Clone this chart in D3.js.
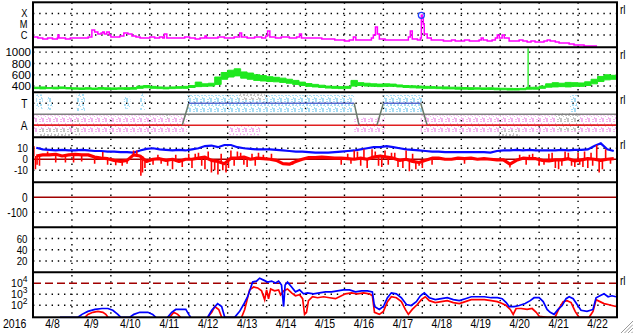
<!DOCTYPE html>
<html><head><meta charset="utf-8">
<script src="https://cdn.jsdelivr.net/npm/d3@7/dist/d3.min.js"></script>
<style>
html,body{margin:0;padding:0;background:#fff;overflow:hidden}
svg{display:block}
</style></head>
<body>
<svg id="chart" width="633" height="334"></svg>
<script>
// ================= DATA =================
const yearLabel = "2016";
const dayLabels = ["4/8","4/9","4/10","4/11","4/12","4/13","4/14","4/15","4/16","4/17","4/18","4/19","4/20","4/21","4/22"];
const rightTag = "rl";

// panel 1 : X-ray flux (W/m2), hours since 2016-04-08 00UT
const xrayTickValues = [1e-4, 1e-5, 1e-6];
const xrayTickLabels = ["X", "M", "C"];
const xrayHours = [0,3,6,9,12,15,15.4,16,20,23,26,29,32,34,36,36.3,38,40,42,43,44,45.5,47,48,51,53.5,56,58.5,61,63.5,66,69,72,75,78,80,81,82.5,85.5,90.5,93.5,96.5,100,103,106,107,110,114,118,121,124,127.4,128.6,132,136.6,141,143.4,144.6,146,149.5,153,158,162.5,164.3,165.5,169,173.5,178,183,186,189,192,195,197.5,199,202.5,206,208.6,209.8,211.1,212.3,213.5,217,221,224.6,228.3,231.4,232.6,233.8,237,238.8,239.4,240,240.6,241.2,243,245.5,249,253,255.4,258,260.3,263,266,269,272,275,276.3,277.5,280,283,285,286.2,287.4,289.2,290.5,293.5,296.6,299.7,302,304.6,307,309.5,312,315,317,318.8,322,324.3,327.4,330.5,333.5,336.6,339.7,342.8,345.8,347.7];
const xrayFlux = [6.5e-7,5.25e-7,4.2e-7,5.25e-7,4.2e-7,5.25e-7,1.0e-6,5.25e-7,4.2e-7,5.25e-7,5.25e-7,5.25e-7,5.25e-7,6.5e-7,6.5e-7,2.9e-6,1.9e-6,1.24e-6,1.54e-6,1.9e-6,1.24e-6,1.9e-6,1.0e-6,6.5e-7,6.5e-7,8.1e-7,1.54e-6,1.24e-6,8.1e-7,6.5e-7,5.25e-7,5.25e-7,6.5e-7,5.25e-7,6.5e-7,5.25e-7,1.24e-6,5.25e-7,5.25e-7,5.25e-7,6.5e-7,5.25e-7,4.2e-7,5.25e-7,8.1e-7,5.25e-7,5.25e-7,6.5e-7,5.25e-7,5.25e-7,6.5e-7,1.54e-6,6.5e-7,5.25e-7,6.5e-7,5.25e-7,8.1e-7,2.4e-6,6.5e-7,5.25e-7,6.5e-7,5.25e-7,6.5e-7,1.24e-6,5.25e-7,5.25e-7,5.25e-7,4.2e-7,4.2e-7,3.4e-7,3.4e-7,2.75e-7,3.4e-7,6.5e-7,3.4e-7,3.4e-7,3.4e-7,5.25e-7,1.0e-6,5.6e-6,1.24e-6,4.2e-7,3.4e-7,3.4e-7,3.4e-7,3.4e-7,6.5e-7,2.4e-6,4.2e-7,3.4e-7,5.25e-7,6.7e-5,4.0e-5,1.0e-5,1.24e-6,5.25e-7,3.4e-7,3.4e-7,2.75e-7,2.75e-7,3.4e-7,2.75e-7,2.75e-7,3.4e-7,2.75e-7,2.75e-7,3.4e-7,5.25e-7,3.4e-7,2.75e-7,3.4e-7,5.25e-7,1.0e-6,5.25e-7,1.0e-6,5.25e-7,2.75e-7,2.75e-7,3.4e-7,2.75e-7,2.2e-7,2.75e-7,2.2e-7,2.2e-7,2.75e-7,3.4e-7,2.75e-7,2.2e-7,1.8e-7,1.8e-7,1.45e-7,1.15e-7,1.15e-7,9.4e-8,9.4e-8,9.4e-8,9.4e-8];
const flareMarkHour = 239.4;
const flareMarkFlux = 6.7e-5;

// panel 2 : solar wind speed (km/s), 4-hour bins, low / high
const windTicks = [400, 600, 800, 1000];
const windStepHours = 4;
const windLo = [355,350,355,350,355,350, 345,340,345,340,345,340, 340,345,340,345,360,370, 360,355,350,355,360,360, 375,390,395,400,430,520, 560,580,540,520,500,490, 480,475,465,450,430,410, 395,385,375,365,360,355, 360,400,410,400,395,390, 395,395,385,375,370,365, 360,360,355,350,350,345, 345,340,345,340,340,335, 335,330,330,335,345,345, 360,380,385,390,385,395, 395,410,440,480,510,520];
const windHi = [380,385,375,380,385,375, 370,368,372,365,375,370, 368,370,372,375,400,410, 395,385,380,385,390,395, 410,470,440,450,560,640, 680,705,650,630,600,585, 565,555,540,520,500,470, 445,430,415,400,395,390, 395,500,460,450,440,435, 440,435,420,410,405,400, 395,390,385,385,380,380, 375,372,370,368,370,365, 362,360,358,360,378,380, 400,440,460,450,465,460, 455,475,520,570,600,590];
const windSpikeHour = 305.2, windSpikeBase = 350, windSpikePeak = 1070;

// panel 3 : sector polarity (T = +1, A = -1)
const sectorTickValues = [1, -1];
const sectorTickLabels = ["T", "A"];
const polarityHours = [0, 92, 96, 198, 201, 212, 216, 239, 243, 360];
const polarityValues = [-1, -1, 1, 1, -1, -1, 1, 1, -1, -1];
// scatter clouds: [startHour, endHour, low, high]
const towardCloud = [[2,6,0.5,1.8],[9,12,0.4,1.6],[27,32,0.3,1.9],[56,60,0.5,1.6],[66,69,0.4,1.9],[95,198,0.2,1.75],[216,240,0.2,1.75],[331,336,0.2,1.75]];
const awayCloud = [[0,95,-1.75,-0.1],[121,140,-1.9,-1.0],[198,217,-1.6,-0.3],[239,360,-1.6,-0.1]];
const grayCloud = [[4,23,-2,-1.3],[26,29,-1.9,-0.5],[81,84,-0.4,0.2],[127,143,1.3,1.9],[287,300,-2,-1.4],[322,337,-1.5,0.2]];

// panel 4 : IMF Bt and Bz (nT), 4-hour bins + Bz spikes [hour, nT]
const imfTicks = [10, 0, -10];
const imfStepHours = 4;
const btValues = [10.5,9,8.5,8,8.5,8, 8,8.5,8,7.5,7.5,7, 7,6.5,6.5,6,8,9.5, 10,9,8.5,8,8.5,8, 9,10,12,12.5,11,13, 13,11,10,9.5,9,9, 9,8.5,8,7.5,7,7, 6.5,6,6,6,6.5,7, 7.5,8,9,10,11,11, 12,11,10,9,8.5,8, 7.5,7,7,6.5,6.5,6.5, 6.5,6.5,6.5,6.5,6,7.5, 8,8,8.5,8,8.5,8, 8,8,8,8.5,8,8.5, 8.5,9,12,14.5,9,7.5];
const bzCore = [3,4,4,4.5,3,4, 4.5,4,4,2,1,0.5, -1,-2,-1,4,3,-2, 0,0.5,-1,0,-2,0, 0,1,2,-1,-2,-4, 1,1,2,0,1,0.5, 0,-1,-4,-4.5,-2,0, 1.5,1.5,2,1.5,1,1, 0.5,0,1,0,2,3, 2,1,-1,0,-2,-3, -1,1,1,0,0,1, 0.5,1,0,0.5,0,-0.5, -0.5,-4.5,-1,1,0.5,0.5, -1,-1.5,-0.5,-0.5,0.5,-1.5, -0.5,0.5,0,-1,0,0.5];
const bzSpikes = [[0.5,12],[1.5,-9],[2.5,-5],[4,-6],[9,7],[14,-3],[20,-3],[25,-3],[30,-2],[38,-4],[43,6.5],[46,-5],[51,-5.5],[55,-6],[58,-4],[62,8],[64,8],[66.5,-15],[67.5,-12],[69,-8],[74,-5],[77,4],[79,-4],[83,-6],[86,-9],[88,4],[92,-7],[96,5],[98,-8],[100,5],[102,6],[104,-6],[106,-9],[108,7],[110,-12],[112,-10],[114,-14],[116,5],[117,-10],[119,-12],[120.5,-8],[122,8],[124,-6],[126,7],[128,6],[130,-5],[132,-7],[135,5],[137,-6],[139,6],[142,4],[147,5],[160,-5],[190,-5],[194,5],[196,-4],[198,8],[200,7],[202,-6],[204,9],[206,-8],[209,9],[211,7],[213,-6],[215,-7],[217,8],[219,-5],[221,6],[223,6],[225,-7],[228,-8],[230,8],[232,-11],[234,5],[236,-9],[238,-6],[240,-8],[246,-5],[266,-4],[294,-7.5],[300,4],[304,-5],[306,4],[308,5],[312,-6],[315,-5],[318,5],[320,6],[322,-8],[324,-9],[326,-6],[328,7],[330,6],[332,-6],[334,-7],[336,6],[337,-5],[339,-7],[340,7],[342,-8],[344,6],[345,-6],[347.5,13],[349,-12],[351,-9],[353,9],[356,-4]];

// panel 5 : Dst (nT) – no data
const dstTicks = [0, -100];
// panel 6 : index – no data
const kpTicks = [60, 40, 20];

// panel 7 : electron flux, [hour, flux]; null = gap
const electronTicks = [1e4, 1e3, 1e2];
const electronAlert = 1e4;
const electronBlue = [[16.6,5],[27.7,5],[30.2,15],[33.8,28],[38.2,42],[42.5,51],[46.2,51],[49.2,35],[52.3,15],[54.2,5],[59.7,5],[62.2,15],[65.8,23],[70.8,23],[73.8,15],[75.7,5],[79,null],[83,5],[85.5,23],[88,42],[94.2,42],[96,15],[97.2,5],[100,null],[107.7,5],[110.2,35],[113.8,143],[116.3,77],[118.2,5],[124.3,5],[127.4,28],[129.8,117],[132.3,599],[133.5,2000],[135.4,12900],[137.8,15800],[139.7,29000],[142.2,19400],[144.6,12900],[147.1,15800],[149.5,10500],[151.4,15800],[153.2,7000],[154.5,77],[155.4,7000],[156.9,12900],[159.4,4642],[161.8,1668],[164.3,2512],[166.8,1107],[169.2,1359],[172.9,1107],[176.6,1359],[180.3,1668],[184,1668],[187.7,2047],[191.4,2512],[195.1,2512],[198.8,1668],[202.5,2047],[206.2,2047],[209.2,1668],[210.5,77],[213.5,42],[216,77],[218.5,488],[220.9,1359],[224,1107],[227.1,488],[230.2,117],[233.2,95],[236.3,216],[238.8,735],[241.2,1359],[244.3,488],[248,324],[251.7,398],[255.4,488],[259.1,324],[262.8,264],[266.5,398],[270.2,599],[273.8,599],[278.2,599],[282.5,488],[286.2,488],[289.2,398],[291.7,176],[293.5,77],[296.6,77],[299.7,95],[303.4,143],[306.5,264],[308.9,488],[312,488],[314.5,216],[316.9,42],[318.8,23],[321.2,15],[323.7,42],[326.2,95],[328.6,398],[330.5,599],[333,398],[335.4,117],[337.8,35],[341.5,28],[345.2,42],[347.1,488],[349.5,735],[352,1107],[354.5,599],[356.9,735],[359.4,599]];
const electronRed = [[32,5],[33.8,15],[36.9,23],[40,28],[43.1,23],[44.9,15],[46.2,5],[50,null],[84.3,5],[86.8,23],[89.2,15],[91,5],[95,null],[107.7,5],[110.2,23],[112,77],[114.5,42],[116.3,5],[120,null],[128.6,5],[130.5,42],[133.5,2512],[136,4642],[138.5,3784],[140.9,2047],[142.8,324],[144,2512],[145.2,398],[146.5,3083],[148.9,2047],[151.4,2512],[152.6,902],[154.5,2047],[156.9,3083],[159.4,1359],[161.8,735],[164.3,902],[166.2,398],[167.4,15],[168.6,23],[169.8,264],[172.3,599],[175.4,488],[179.1,599],[182.8,488],[186.5,398],[188.9,599],[192.6,1107],[196.3,1359],[200,1107],[203.7,1359],[207.4,1107],[209.2,735],[210.5,23],[213.5,15],[216,28],[218.5,216],[220.9,599],[224,488],[227.1,216],[229.5,42],[231.4,15],[233.8,42],[236.9,117],[239.4,324],[241.8,599],[244.3,264],[248,176],[251.7,216],[255.4,264],[259.1,176],[262.8,143],[266.5,216],[270.2,324],[273.8,324],[278.2,324],[282.5,264],[286.2,216],[289.2,143],[291.7,95],[294.2,42],[296,15],[297.8,51],[300.9,51],[304.6,42],[307.7,51],[310.2,23],[312,10],[316.9,8],[321.8,8],[324.3,51],[326.8,216],[329.2,264],[331.7,176],[334.2,28],[336.6,8],[342.8,8],[345.2,28],[347.1,324],[349.5,216],[352,143],[354.5,117],[356.9,95],[359.4,77]];

// ================= DRAWING =================
const W = 633, H = 334, L = 33, R = 617, TOP = 2.3, PH = 45, NP = 7;
const T0 = Date.UTC(2016, 3, 8);
const hr = h => new Date(T0 + h * 3600000);
const pTop = i => TOP + PH * i, pBot = i => TOP + PH * (i + 1);
const BOTTOM = pBot(NP - 1);

const x = d3.scaleUtc().domain([hr(0), hr(24 * dayLabels.length)]).range([L, R]);
const ys = [
  d3.scaleLog().domain([7.1e-8, 1.1e-3]).range([pBot(0), pTop(0)]).clamp(true),
  d3.scaleLinear().domain([290, 1085]).range([pBot(1), pTop(1)]),
  d3.scaleLinear().domain([-2.09, 2.0]).range([pBot(2), pTop(2)]),
  d3.scaleLinear().domain([-21, 20]).range([pBot(3), pTop(3)]),
  d3.scaleLinear().domain([-200, 100]).range([pBot(4), pTop(4)]),
  d3.scaleLinear().domain([0, 80]).range([pBot(5), pTop(5)]),
  d3.scaleLog().domain([8.1, 1e5]).range([pBot(6), pTop(6)]).clamp(true)
];

const svg = d3.select("#chart");
svg.append("rect").attr("width", W).attr("height", H).attr("fill", "#fff");
const defs = svg.append("defs");

const NARROW = '"Liberation Sans Narrow","Liberation Sans",Arial,sans-serif';
const REG = '"Liberation Sans",Arial,sans-serif';
let narrowOK = true;
{
  const t = svg.append("text").attr("font-family", '"Liberation Sans Narrow"').attr("font-size", 12).text("0000");
  narrowOK = t.node().getComputedTextLength() < 24;
  t.remove();
}
function fixNarrow(sel) {
  if (narrowOK) return;
  sel.each(function () {
    const w = this.getComputedTextLength();
    d3.select(this).attr("textLength", w * 0.84).attr("lengthAdjust", "spacingAndGlyphs");
  });
}

for (let i = 0; i < NP; i++) {
  defs.append("clipPath").attr("id", "clip" + i).append("rect")
    .attr("x", L).attr("y", pTop(i) - 0.5).attr("width", R - L).attr("height", PH + 1.5);
}
const dotOffsets = [[0,0,2,2],[4,1,2,1],[2,3,1,2],[5,4,2,2],[1,5,2,1],[3,6,1,1],[6,7,1,2],[0,8,2,2],[4,9,2,1]];
function makePattern(id, color) {
  const p = defs.append("pattern").attr("id", id).attr("width", 7).attr("height", 10)
    .attr("patternUnits", "userSpaceOnUse");
  dotOffsets.forEach(([a, b, w, h]) => p.append("rect").attr("x", a).attr("y", b).attr("width", w).attr("height", h).attr("fill", color));
}
makePattern("patT", "#a4dcf4");
makePattern("patA", "#f2b2ee");
makePattern("patG", "#c4c4c4");

const gGrid = svg.append("g");
const dotted = { stroke: "#000", "stroke-width": 1.4, "stroke-dasharray": "1.4,4.8" };
function hline(g, i, v, style) {
  const l = g.append("line").attr("x1", L).attr("x2", R).attr("y1", ys[i](v)).attr("y2", ys[i](v));
  Object.entries(style).forEach(([k, val]) => l.attr(k, val));
  return l;
}
for (let k = 1; k < dayLabels.length; k++) {
  const xx = x(hr(24 * k));
  const l = gGrid.append("line").attr("x1", xx).attr("x2", xx).attr("y1", TOP).attr("y2", BOTTOM);
  Object.entries(dotted).forEach(([a, b]) => l.attr(a, b));
}
xrayTickValues.forEach(v => hline(gGrid, 0, v, dotted));
windTicks.forEach(v => hline(gGrid, 1, v, dotted));
hline(gGrid, 2, 1, dotted);
imfTicks.filter(v => v !== 0).forEach(v => hline(gGrid, 3, v, dotted));
dstTicks.filter(v => v !== 0).forEach(v => hline(gGrid, 4, v, dotted));
kpTicks.forEach(v => hline(gGrid, 5, v, dotted));
electronTicks.filter(v => v !== electronAlert).forEach(v => hline(gGrid, 6, v, dotted));

const gRef = svg.append("g");
hline(gRef, 3, 0, { stroke: "#a00000", "stroke-width": 1.5 });
hline(gRef, 4, 0, { stroke: "#a00000", "stroke-width": 1.5 });
hline(gRef, 6, electronAlert, { stroke: "#a00000", "stroke-width": 1.5, "stroke-dasharray": "8,4" });

// ---- panel 1: X-ray
const g0 = svg.append("g").attr("clip-path", "url(#clip0)");
g0.append("path").datum(xrayHours.map((h, i) => [h, xrayFlux[i]]))
  .attr("fill", "none").attr("stroke", "#ff00ff").attr("stroke-width", 1.5)
  .attr("d", d3.line().curve(d3.curveStepAfter).x(d => x(hr(d[0]))).y(d => ys[0](d[1])));
svg.append("circle").attr("cx", x(hr(flareMarkHour))).attr("cy", ys[0](flareMarkFlux)).attr("r", 3)
  .attr("fill", "none").attr("stroke", "#2040ff").attr("stroke-width", 1.3);

// ---- panel 2: solar wind
const g1 = svg.append("g").attr("clip-path", "url(#clip1)");
const windData = windLo.map((lo, i) => ({ h: i * windStepHours, lo, hi: windHi[i] }));
windData.push({ h: windData.length * windStepHours, lo: windLo[windLo.length - 1], hi: windHi[windHi.length - 1] });
g1.append("path").datum(windData).attr("fill", "#1ee81e").attr("stroke", "#1ee81e").attr("stroke-width", 1)
  .attr("d", d3.area().curve(d3.curveStepAfter).x(d => x(hr(d.h))).y0(d => ys[1](d.lo)).y1(d => ys[1](d.hi)));
g1.append("line").attr("x1", x(hr(windSpikeHour))).attr("x2", x(hr(windSpikeHour)))
  .attr("y1", ys[1](windSpikeBase)).attr("y2", ys[1](windSpikePeak)).attr("stroke", "#1ee81e").attr("stroke-width", 1.3);

// ---- panel 3: sector
const g2 = svg.append("g").attr("clip-path", "url(#clip2)");
function cloud(arr, pat) {
  g2.selectAll(null).data(arr).join("rect")
    .attr("x", d => x(hr(d[0]))).attr("width", d => x(hr(d[1])) - x(hr(d[0])))
    .attr("y", d => ys[2](d[3])).attr("height", d => ys[2](d[2]) - ys[2](d[3]))
    .attr("fill", "url(#" + pat + ")");
}
cloud(awayCloud, "patA");
cloud(towardCloud, "patT");
cloud(grayCloud, "patG");
hline(g2, 2, 0, { stroke: "#808080", "stroke-width": 1.5 });
hline(g2, 2, -1, { stroke: "#e02020", "stroke-width": 1.5 });
for (let i = 0; i < polarityHours.length - 1; i++) {
  const a = polarityValues[i], b = polarityValues[i + 1];
  const col = a !== b ? "#6a7a6a" : (a > 0 ? "#5668d0" : "#e02020");
  g2.append("line").attr("x1", x(hr(polarityHours[i]))).attr("x2", x(hr(polarityHours[i + 1])))
    .attr("y1", ys[2](a)).attr("y2", ys[2](b)).attr("stroke", col).attr("stroke-width", 1.5);
}

// ---- panel 4: IMF
const g3 = svg.append("g").attr("clip-path", "url(#clip3)");
g3.append("path").datum(btValues.map((v, i) => [i * imfStepHours + imfStepHours / 2, v]))
  .attr("fill", "none").attr("stroke", "#0a0aff").attr("stroke-width", 2.2)
  .attr("d", d3.line().x(d => x(hr(d[0]))).y(d => ys[3](d[1])));
const bzPts = bzCore.map((v, i) => [i * imfStepHours + imfStepHours / 2, v]);
const bzAt = h => {
  const i = Math.max(0, Math.min(bzCore.length - 1, Math.floor(h / imfStepHours)));
  return bzCore[i];
};
g3.selectAll(null).data(bzSpikes).join("line")
  .attr("x1", d => x(hr(d[0]))).attr("x2", d => x(hr(d[0])))
  .attr("y1", d => ys[3](bzAt(d[0]))).attr("y2", d => ys[3](d[1]))
  .attr("stroke", "#ff0000").attr("stroke-width", 1.6);
g3.append("path").datum(bzPts).attr("fill", "none").attr("stroke", "#ff0000").attr("stroke-width", 3.2)
  .attr("stroke-linejoin", "round")
  .attr("d", d3.line().x(d => x(hr(d[0]))).y(d => ys[3](d[1])));

// ---- panel 7: electrons
const g6 = svg.append("g").attr("clip-path", "url(#clip6)");
const eLine = d3.line().defined(d => d[1] !== null).x(d => x(hr(d[0]))).y(d => ys[6](d[1]));
g6.append("path").datum(electronRed).attr("fill", "none").attr("stroke", "#ff0000").attr("stroke-width", 1.7).attr("d", eLine);
g6.append("path").datum(electronBlue).attr("fill", "none").attr("stroke", "#0000ff").attr("stroke-width", 1.7).attr("d", eLine);

// ---- frame
const gF = svg.append("g").attr("stroke", "#000").attr("stroke-width", 2).attr("fill", "none");
gF.append("rect").attr("x", L).attr("y", TOP).attr("width", R - L).attr("height", BOTTOM - TOP);
for (let i = 1; i < NP; i++) gF.append("line").attr("x1", L).attr("x2", R).attr("y1", pTop(i)).attr("y2", pTop(i));

// ---- labels
const gT = svg.append("g").attr("fill", "#000");
function ylab(i, vals, labels, xr, family, size) {
  const s = gT.selectAll(null).data(vals).join("text")
    .attr("x", xr).attr("y", v => ys[i](v)).attr("dy", "0.36em").attr("text-anchor", "end")
    .attr("font-family", family).attr("font-size", size)
    .text((v, j) => labels ? labels[j] : String(v));
  if (family === NARROW) fixNarrow(s);
}
ylab(0, xrayTickValues, xrayTickLabels, 27.5, NARROW, 11);
ylab(1, windTicks, null, 31, REG, 11.5);
ylab(2, sectorTickValues, sectorTickLabels, 27.5, NARROW, 12);
ylab(3, imfTicks, null, 28, NARROW, 11.5);
ylab(4, dstTicks, null, 27.5, NARROW, 12);
ylab(5, kpTicks, null, 27.5, NARROW, 11.5);
electronTicks.forEach(v => {
  const t = gT.append("text").attr("x", 27.5).attr("y", ys[6](v) + 4).attr("text-anchor", "end")
    .attr("font-family", NARROW).attr("font-size", 10.5);
  t.append("tspan").text("10");
  t.append("tspan").attr("dy", -5).attr("font-size", 8.5).text(Math.round(Math.log10(v)));
});
const xl = gT.selectAll(null).data(dayLabels).join("text")
  .attr("x", (d, k) => x(hr(24 * k + 12))).attr("y", 328).attr("text-anchor", "middle")
  .attr("font-family", NARROW).attr("font-size", 12.5).text(d => d);
fixNarrow(xl);
fixNarrow(gT.append("text").attr("x", 3).attr("y", 328).attr("font-family", NARROW).attr("font-size", 12.5).text(yearLabel));
[0, 1, 2, 3].forEach(i => {
  fixNarrow(gT.append("text").attr("x", 620).attr("y", pTop(i) + 12).attr("font-family", NARROW).attr("font-size", 12).text(rightTag));
});
fixNarrow(gT.append("text").attr("x", 620).attr("y", ys[6](electronAlert) + 2).attr("font-family", NARROW).attr("font-size", 12).text(rightTag));

const gG = svg.append("g");
for (let k = 0; k < 4; k++) {
  gG.append("line").attr("x1", 633).attr("y1", 321 + 3.5 * k).attr("x2", 621 + 3.5 * k).attr("y2", 333)
    .attr("stroke", "#9a9a9a").attr("stroke-width", 1);
}
</script>
</body></html>
